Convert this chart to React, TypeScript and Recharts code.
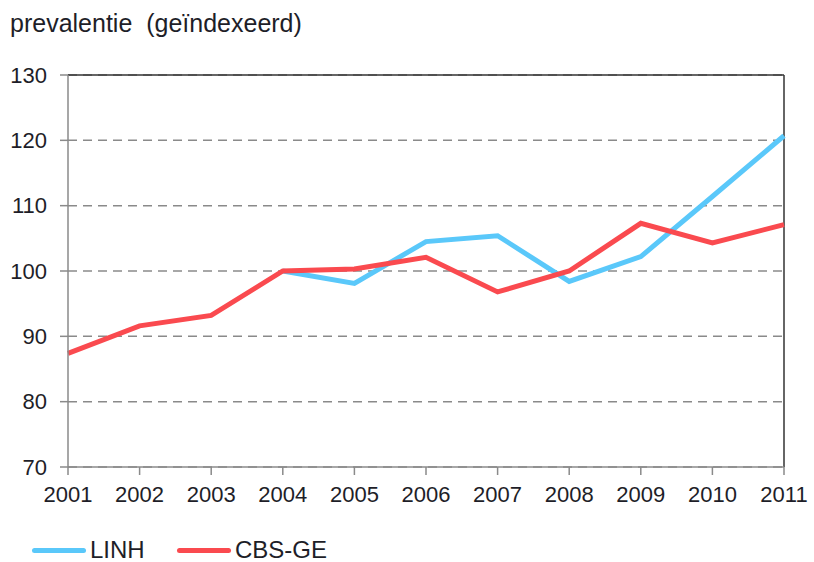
import {
  LineChart,
  Line,
  XAxis,
  YAxis,
  CartesianGrid,
  ReferenceLine,
} from "recharts";

const years = ["2001", "2002", "2003", "2004", "2005", "2006", "2007", "2008", "2009", "2010", "2011"];
const linh = [null, null, null, 100, 98.1, 104.5, 105.4, 98.4, 102.2, 111.4, 120.7];
const cbsGe = [87.4, 91.6, 93.2, 100, 100.3, 102.1, 96.8, 100, 107.3, 104.3, 107.1];
const yTicks = [70, 80, 90, 100, 110, 120, 130];

const data = years.map((year, i) => ({ year, LINH: linh[i], "CBS-GE": cbsGe[i] }));

const FONT = '"Liberation Sans", Arial, sans-serif';
const BLUE = "#5ac8fa";
const RED = "#fa4a4f";

export default function App() {
  return (
    <div
      style={{
        position: "absolute",
        left: 0,
        top: 0,
        width: 814,
        height: 562,
        background: "#fff",
        fontFamily: FONT,
        color: "#1e1e28",
        overflow: "hidden",
      }}
    >
      <div style={{ position: "absolute", left: 10, top: 11, fontSize: 25, lineHeight: 1 }}>
        prevalentie&nbsp;&nbsp;(geïndexeerd)
      </div>
      <LineChart
        width={814}
        height={562}
        data={data}
        margin={{ top: 75, right: 30, bottom: 60, left: 8 }}
      >
        <CartesianGrid vertical={false} stroke="#8a8a8a" strokeDasharray="9 6" strokeWidth={1.5} />
        <XAxis
          dataKey="year"
          stroke="#8a8a8a"
          strokeWidth={1.5}
          tickSize={8}
          tickMargin={11}
          height={35}
          tick={{ fill: "#1e1e28", fontSize: 22, fontFamily: FONT }}
          interval={0}
        />
        <YAxis
          domain={[70, 130]}
          ticks={yTicks}
          width={60}
          stroke="#8a8a8a"
          strokeWidth={1.5}
          tickSize={8}
          tickMargin={13}
          tick={{ fill: "#1e1e28", fontSize: 22, fontFamily: FONT }}
        />
        <ReferenceLine y={130} stroke="#333" strokeWidth={1.5} />
        <ReferenceLine x="2011" stroke="#333" strokeWidth={1.5} />
        <Line
          dataKey="LINH"
          stroke={BLUE}
          strokeWidth={5}
          dot={false}
          isAnimationActive={false}
          connectNulls={false}
        />
        <Line
          dataKey="CBS-GE"
          stroke={RED}
          strokeWidth={5}
          dot={false}
          isAnimationActive={false}
        />
      </LineChart>
      {[
        { name: "LINH", color: BLUE, x: 32 },
        { name: "CBS-GE", color: RED, x: 177 },
      ].map((item) => (
        <div
          key={item.name}
          style={{
            position: "absolute",
            left: item.x,
            top: 538,
            height: 24,
            display: "flex",
            alignItems: "center",
            fontSize: 24,
            lineHeight: "24px",
          }}
        >
          <div style={{ width: 54, height: 5, borderRadius: 3, background: item.color, marginRight: 4 }} />
          <span>{item.name}</span>
        </div>
      ))}
    </div>
  );
}
